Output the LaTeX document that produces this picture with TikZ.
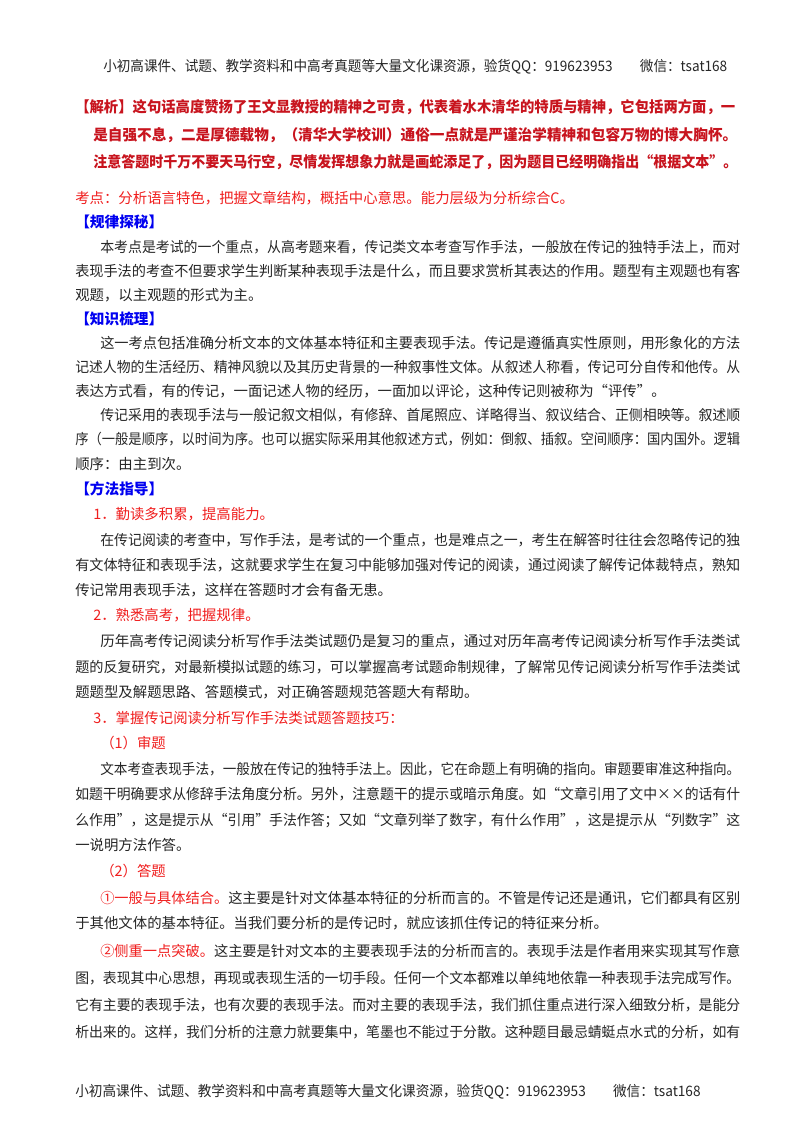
\documentclass[tikz,border=0pt]{standalone}
\usepackage{fontspec}
\usepackage{graphicx}
\setmainfont{Noto Sans CJK SC}
\definecolor{jxred}{RGB}{200,20,30}
\definecolor{hdblue}{RGB}{0,0,240}
\definecolor{subred}{RGB}{240,30,30}
\newcommand\fl[2]{\resizebox{#1pt}{\height}{#2}}
\newcommand\full[1]{\fl{498.75}{#1}}
\newcommand\ind[1]{\fl{480}{#1}}
\begin{document}
\begin{tikzpicture}[x=0.75pt,y=-0.75pt,
  ln/.style={anchor=west,inner sep=0pt,font=\fontsize{10.8pt}{13pt}\selectfont,text=black!85},
  jx/.style={ln,text=jxred,font=\fontsize{11.2pt}{13pt}\selectfont\bfseries},
  hd/.style={ln,text=hdblue,font=\fontsize{11pt}{13pt}\selectfont\bfseries},
  sb/.style={ln,text=subred}]
\useasboundingbox[fill=white] (0,0) rectangle (800,1132);
\node[ln] (h) at (103,67) {\fl{468}{小初高课件、试题、教学资料和中高考真题等大量文化课资源，验货QQ：919623953\hspace{2em}微信：tsat168}};
\node[jx] (j1) at (75,107) {\fl{495}{【解析】这句话高度赞扬了王文显教授的精神之可贵，代表着水木清华的特质与精神，它包括两方面，一}};
\node[jx] (j2) at (93,135) {\fl{483}{是自强不息，二是厚德载物，（清华大学校训）通俗一点就是严谨治学精神和包容万物的博大胸怀。}};
\node[jx] (j3) at (93,162) {\fl{483}{注意答题时千万不要天马行空，尽情发挥想象力就是画蛇添足了，因为题目已经明确指出“根据文本”。}};
\node[ln,text=subred] (k) at (75,198) {考点：分析语言特色，把握文章结构，概括中心意思。能力层级为分析综合C。};
\node[hd] (g1) at (75,222) {【规律探秘】};
\node[ln] (a1) at (100,247) {\ind{本考点是考试的一个重点，从高考题来看，传记类文本考查写作手法，一般放在传记的独特手法上，而对}};
\node[ln] (a2) at (75,271) {\full{表现手法的考查不但要求学生判断某种表现手法是什么，而且要求赏析其表达的作用。题型有主观题也有客}};
\node[ln] (a3) at (75,295) {观题，以主观题的形式为主。};
\node[hd] (g2) at (75,319) {【知识梳理】};
\node[ln] (b1) at (100,343) {\ind{这一考点包括准确分析文本的文体基本特征和主要表现手法。传记是遵循真实性原则，用形象化的方法}};
\node[ln] (b2) at (75,367) {\full{记述人物的生活经历、精神风貌以及其历史背景的一种叙事性文体。从叙述人称看，传记可分自传和他传。从}};
\node[ln] (b3) at (75,391) {表达方式看，有的传记，一面记述人物的经历，一面加以评论，这种传记则被称为“评传”。};
\node[ln] (c1) at (100,415) {\ind{传记采用的表现手法与一般记叙文相似，有修辞、首尾照应、详略得当、叙议结合、正侧相映等。叙述顺}};
\node[ln] (c2) at (75,439) {\full{序（一般是顺序，以时间为序。也可以据实际采用其他叙述方式，例如：倒叙、插叙。空间顺序：国内国外。逻辑}};
\node[ln] (c3) at (75,464) {顺序：由主到次。};
\node[hd] (g3) at (75,489) {【方法指导】};
\node[sb] (d0) at (93,514) {1．勤读多积累，提高能力。};
\node[ln] (d1) at (100,540) {\ind{在传记阅读的考查中，写作手法，是考试的一个重点，也是难点之一，考生在解答时往往会忽略传记的独}};
\node[ln] (d2) at (75,565) {\full{有文体特征和表现手法，这就要求学生在复习中能够加强对传记的阅读，通过阅读了解传记体裁特点，熟知}};
\node[ln] (d3) at (75,590) {传记常用表现手法，这样在答题时才会有备无患。};
\node[sb] (e0) at (93,615) {2．熟悉高考，把握规律。};
\node[ln] (e1) at (100,641) {\ind{历年高考传记阅读分析写作手法类试题仍是复习的重点，通过对历年高考传记阅读分析写作手法类试}};
\node[ln] (e2) at (75,667) {\full{题的反复研究，对最新模拟试题的练习，可以掌握高考试题命制规律，了解常见传记阅读分析写作手法类试}};
\node[ln] (e3) at (75,692) {题题型及解题思路、答题模式，对正确答题规范答题大有帮助。};
\node[sb] (f0) at (93,718) {3．掌握传记阅读分析写作手法类试题答题技巧：};
\node[sb] (f1) at (100,743) {（1）审题};
\node[ln] (f2) at (100,769) {\ind{文本考查表现手法，一般放在传记的独特手法上。因此，它在命题上有明确的指向。审题要审准这种指向。}};
\node[ln] (f3) at (75,794) {\full{如题干明确要求从修辞手法角度分析。另外，注意题干的提示或暗示角度。如“文章引用了文中××的话有什}};
\node[ln] (f4) at (75,820) {\full{么作用”，这是提示从“引用”手法作答；又如“文章列举了数字，有什么作用”，这是提示从“列数字”这}};
\node[ln] (f5) at (75,845) {一说明方法作答。};
\node[sb] (g0) at (100,871) {（2）答题};
\node[ln] (m1) at (100,898) {\ind{\textcolor{subred}{①一般与具体结合。}这主要是针对文体基本特征的分析而言的。不管是传记还是通讯，它们都具有区别}};
\node[ln] (m2) at (75,923) {于其他文体的基本特征。当我们要分析的是传记时，就应该抓住传记的特征来分析。};
\node[ln] (n1) at (100,951) {\ind{\textcolor{subred}{②侧重一点突破。}这主要是针对文本的主要表现手法的分析而言的。表现手法是作者用来实现其写作意}};
\node[ln] (n2) at (75,978) {\full{图，表现其中心思想，再现或表现生活的一切手段。任何一个文本都难以单纯地依靠一种表现手法完成写作。}};
\node[ln] (n3) at (75,1005) {\full{它有主要的表现手法，也有次要的表现手法。而对主要的表现手法，我们抓住重点进行深入细致分析，是能分}};
\node[ln] (n4) at (75,1032) {\full{析出来的。这样，我们分析的注意力就要集中，笔墨也不能过于分散。这种题目最忌蜻蜓点水式的分析，如有}};
\node[ln] (ft) at (75,1092) {\fl{469}{小初高课件、试题、教学资料和中高考真题等大量文化课资源，验货QQ：919623953\hspace{2em}微信：tsat168}};
\end{tikzpicture}
\end{document}
